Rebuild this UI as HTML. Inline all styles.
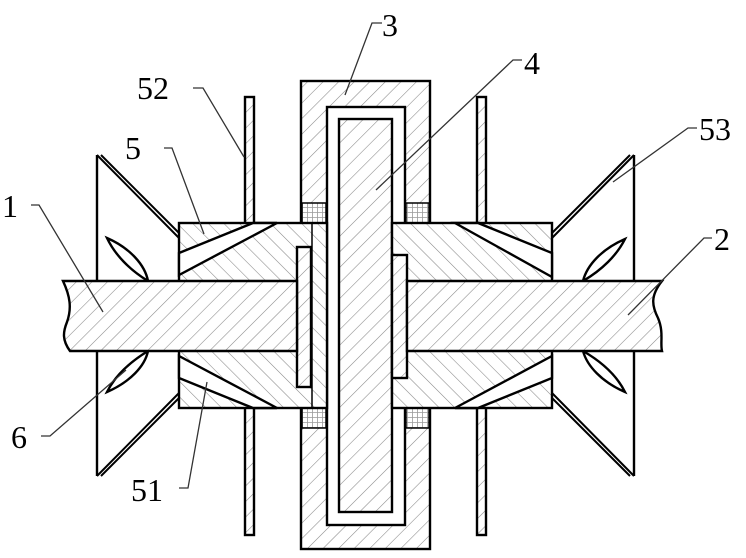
<!DOCTYPE html>
<html><head><style>html,body{margin:0;padding:0;background:#fff}svg{display:block}</style></head><body>
<svg width="746" height="558" viewBox="0 0 746 558" xmlns="http://www.w3.org/2000/svg">
<defs>
<pattern id="h1" patternUnits="userSpaceOnUse" width="11" height="11" patternTransform="rotate(45)"><rect width="11" height="11" fill="#fff"/><line x1="0" y1="0" x2="0" y2="11" stroke="#888" stroke-width="1.1"/></pattern>
<pattern id="h2" patternUnits="userSpaceOnUse" width="11" height="11" patternTransform="rotate(-45)"><rect width="11" height="11" fill="#fff"/><line x1="0" y1="0" x2="0" y2="11" stroke="#888" stroke-width="1.1"/></pattern>
<pattern id="felt" patternUnits="userSpaceOnUse" width="5" height="5"><rect width="5" height="5" fill="#fff"/><path d="M0 2.5H5M2.5 0V5" stroke="#999" stroke-width="0.8"/></pattern>
</defs>
<g stroke="#000" stroke-width="2.4" fill="none">
<rect x="245" y="97" width="9" height="438" fill="url(#h1)"/>
<rect x="477" y="97" width="9" height="438" fill="url(#h1)"/>
<rect x="301" y="81" width="129" height="468" fill="url(#h1)"/>
<rect x="327" y="107" width="78" height="418" fill="#fff"/>
<rect x="339" y="119" width="53" height="393" fill="url(#h1)"/>
<rect x="302" y="203" width="24" height="20" fill="url(#felt)" stroke-width="1.5"/>
<rect x="302" y="408" width="24" height="20" fill="url(#felt)" stroke-width="1.5"/>
<rect x="406" y="203" width="23" height="20" fill="url(#felt)" stroke-width="1.5"/>
<rect x="406" y="408" width="23" height="20" fill="url(#felt)" stroke-width="1.5"/>
<rect x="179" y="223" width="148" height="185" fill="url(#h2)"/>
<line x1="312" y1="223" x2="312" y2="408" stroke-width="1.5"/>
<polygon points="179,253 253,223 277,223 179,275" fill="#fff"/>
<polygon points="179,356 277,408 253,408 179,378" fill="#fff"/>
<rect x="297" y="247" width="14" height="140" fill="url(#h1)"/>
<rect x="392" y="223" width="160" height="185" fill="url(#h2)"/>
<polygon points="455,223 478,223 552,253 552,277" fill="#fff"/>
<polygon points="552,356 552,378 478,408 455,408" fill="#fff"/>
<rect x="392" y="255" width="15" height="123" fill="url(#h1)"/>
<path d="M97,155 V476"/>
<path d="M97,155 L179,238 M101,155 L179,233" stroke-width="2"/>
<path d="M97,476 L179,393 M101,476 L179,398" stroke-width="2"/>
<path d="M107,238 C130,248 145,265 148,281 C130,270 115,255 107,238 Z" fill="#fff"/>
<path d="M107,392 C130,382 145,366 148,351 C130,362 115,376 107,392 Z" fill="#fff"/>
<path d="M634,155 V476"/>
<path d="M634,155 L552,238 M630,155 L552,233" stroke-width="2"/>
<path d="M634,476 L552,393 M630,476 L552,398" stroke-width="2"/>
<path d="M625,239 C602,249 587,265 583,281 C602,270 617,255 625,239 Z" fill="#fff"/>
<path d="M625,392 C602,382 587,366 583,351 C602,362 617,376 625,392 Z" fill="#fff"/>
<path d="M70,281 H297 V351 H70 C62,340 63,332 67,322 C72,308 70,296 63,281 Z" fill="url(#h1)"/>
<path d="M407,281 H662 C650,296 652,306 658,318 C664,332 660,343 662,351 H407 Z" fill="url(#h1)"/>
</g>
<g stroke="#333" stroke-width="1.3" fill="none">
<path d="M382,23 H372 L345,95"/>
<path d="M522,60 H513 L376,190"/>
<path d="M193,88 H203 L244,157"/>
<path d="M164,148 H172 L204,234"/>
<path d="M697,128 H688 L613,182"/>
<path d="M31,205 H39 L103,312"/>
<path d="M712,238 H704 L628,315"/>
<path d="M41,436 H50 L126,370"/>
<path d="M179,488 H188 L207,382"/>
</g>
<g font-family="Liberation Serif, serif" font-size="32" fill="#000">
<text x="382" y="36">3</text>
<text x="524" y="74">4</text>
<text x="137" y="99">52</text>
<text x="125" y="159">5</text>
<text x="699" y="140">53</text>
<text x="2" y="217">1</text>
<text x="714" y="250">2</text>
<text x="11" y="448">6</text>
<text x="131" y="501">51</text>
</g>
</svg>
</body></html>
